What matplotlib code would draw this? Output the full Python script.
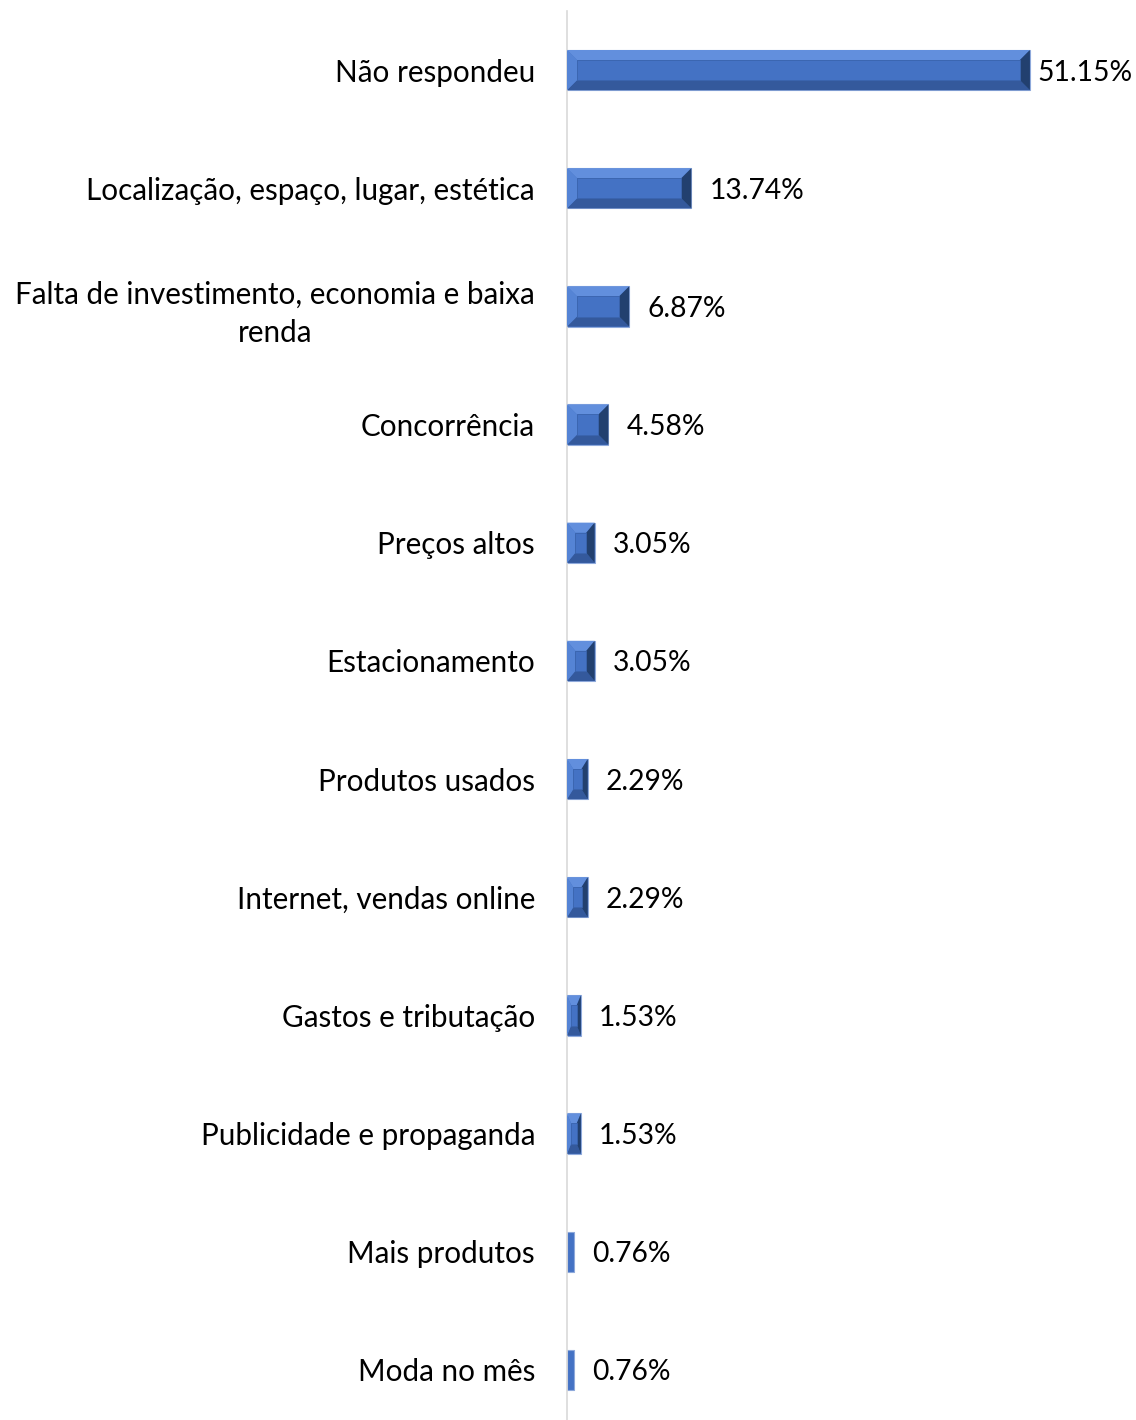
import matplotlib
matplotlib.use("Agg")
import matplotlib.pyplot as plt
from matplotlib.patches import Polygon

categories = [
    "Não respondeu",
    "Localização, espaço, lugar, estética",
    "Falta de investimento, economia e baixa\nrenda",
    "Concorrência",
    "Preços altos",
    "Estacionamento",
    "Produtos usados",
    "Internet, vendas online",
    "Gastos e tributação",
    "Publicidade e propaganda",
    "Mais produtos",
    "Moda no mês",
]
values = [51.15, 13.74, 6.87, 4.58, 3.05, 3.05, 2.29, 2.29, 1.53, 1.53, 0.76, 0.76]

plt.rcParams["font.family"] = ["Lato", "DejaVu Sans"]
FS_CAT = 21.3
FS_VAL = 20.3
W, H = 1136, 1420
fig = plt.figure(figsize=(W / 100, H / 100), dpi=100)
x0_px, top_px, bot_px = 567, 11, 1429
ax = fig.add_axes([x0_px / W, (H - bot_px) / H, (W - x0_px) / W, (bot_px - top_px) / H])
xmax = (W - x0_px) / 9.05
ax.set_xlim(0, xmax)
n = len(categories)
ax.set_ylim(n - 0.5, -0.5)

px_x = xmax / (W - x0_px)            # data units per pixel
px_y = n / (bot_px - top_px)
bh = 0.34
base = "#4472C4"
for i, v in enumerate(values):
    y0, y1 = i - bh / 2, i + bh / 2
    ax.barh(i, v, height=bh, color=base, edgecolor="#8EA9DB", linewidth=0.8, zorder=2)
    if v < 1:
        continue
    bx = min(10 * px_x, v * 0.3)
    by = min(10 * px_y, bh * 0.28)
    # bevel faces: top light, bottom dark, left light, right dark
    faces = [
        ([(0, y0), (v, y0), (v - bx, y0 + by), (bx, y0 + by)], "#628FDD"),
        ([(0, y1), (v, y1), (v - bx, y1 - by), (bx, y1 - by)], "#34599C"),
        ([(0, y0), (bx, y0 + by), (bx, y1 - by), (0, y1)], "#5584D5"),
        ([(v, y0), (v - bx, y0 + by), (v - bx, y1 - by), (v, y1)], "#22406F"),
    ]
    for pts, c in faces:
        ax.add_patch(Polygon(pts, closed=True, facecolor=c, edgecolor="none", zorder=3))
    ax.add_patch(Polygon([(bx, y0 + by), (v - bx, y0 + by), (v - bx, y1 - by), (bx, y1 - by)],
                         closed=True, facecolor=base, edgecolor="#3A64AE", lw=0.6, zorder=4))

# value labels
for i, v in enumerate(values):
    x = v + 18 * px_x
    if x + 100 * px_x > xmax:
        x = v + 7 * px_x
    ax.text(x, i, f"{v:.2f}%", va="center_baseline", ha="left", fontsize=FS_VAL, color="#000000")

ax.set_yticks(range(n))
ax.set_yticklabels(categories, fontsize=FS_CAT, multialignment="center", linespacing=1.45)
ax.tick_params(axis="y", length=0, pad=23)
ax.set_xticks([])
for s in ["top", "right", "bottom"]:
    ax.spines[s].set_visible(False)
ax.spines["left"].set_color("#D9D9D9")
ax.spines["left"].set_linewidth(1.2)

fig.savefig("out.png", dpi=100)
